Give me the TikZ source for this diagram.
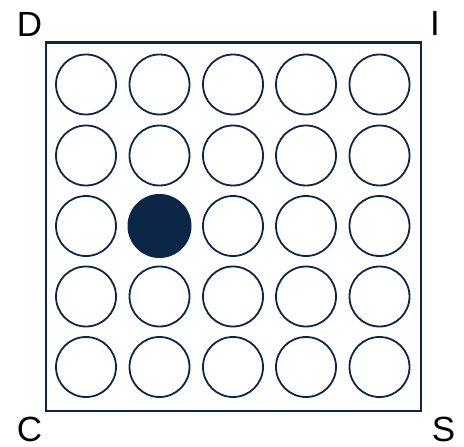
\documentclass[tikz,border=0pt]{standalone}
\usepackage{fontspec}
\setmainfont{Liberation Sans}
\definecolor{navy}{HTML}{0B2647}
\begin{document}
\begin{tikzpicture}[x=1pt,y=-1pt,
  well/.style={circle,draw=navy,line width=1.8pt,minimum size=60pt,inner sep=0pt},
  filledwell/.style={circle,fill=navy,minimum size=64pt,inner sep=0pt},
  corner/.style={inner sep=0pt,font=\fontsize{35}{40}\selectfont}]
\useasboundingbox (0,0) rectangle (464,447);
\node[draw=navy,line width=2.4pt,minimum width=375pt,minimum height=368.5pt,inner sep=0pt] (frame) at (233.5,226.75) {};
\foreach \r/\y in {1/84.5,2/155.5,3/226,4/296.5,5/367}{
  \foreach \c/\x in {1/86,2/159.5,3/233,4/306,5/379.5}{
    \ifnum\r=3 \ifnum\c=2
      \node[filledwell] (w\r\c) at (\x,\y) {};
    \else
      \node[well] (w\r\c) at (\x,\y) {};
    \fi\else
      \node[well] (w\r\c) at (\x,\y) {};
    \fi
  }
}
\node[corner] (D) at (29.5,24.5) {D};
\node[corner] (I) at (435,23.5) {I};
\node[corner] (C) at (29.5,429.5) {C};
\node[corner] (S) at (443.5,429.5) {S};
\end{tikzpicture}
\end{document}
